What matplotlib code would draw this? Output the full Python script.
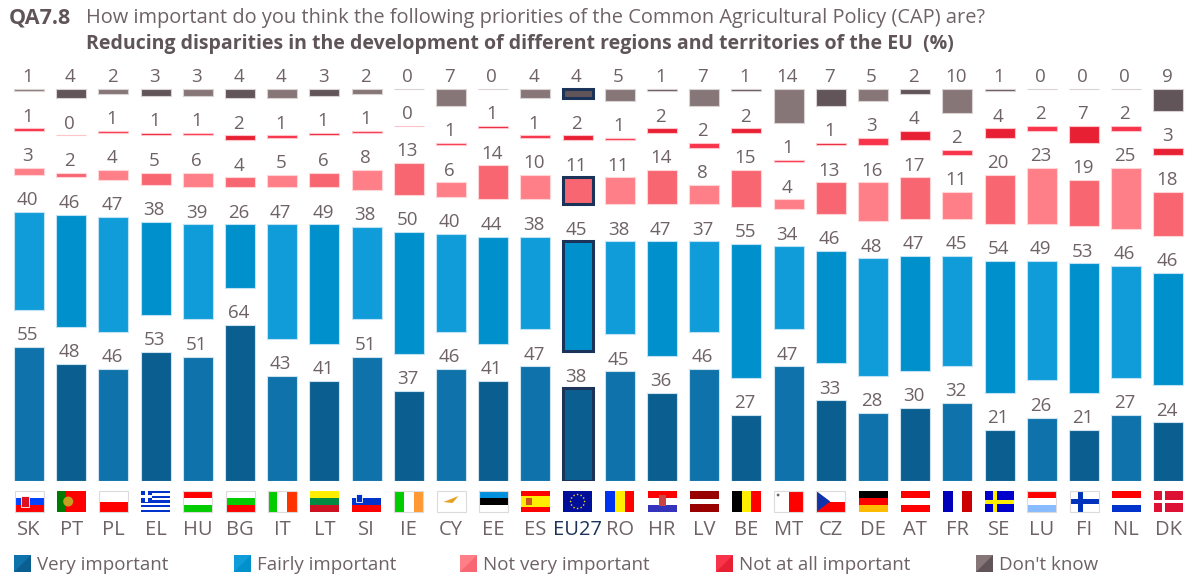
import numpy as np
import matplotlib
matplotlib.use('Agg')
import matplotlib.pyplot as plt
from matplotlib.patches import Rectangle, Polygon, Circle

plt.rcParams['font.family'] = ['Open Sans', 'DejaVu Sans']

countries = ['SK','PT','PL','EL','HU','BG','IT','LT','SI','IE','CY','EE','ES','EU27',
             'RO','HR','LV','BE','MT','CZ','DE','AT','FR','SE','LU','FI','NL','DK']
very_important =  [55,48,46,53,51,64,43,41,51,37,46,41,47,38,45,36,46,27,47,33,28,30,32,21,26,21,27,24]
fairly_important =[40,46,47,38,39,26,47,49,38,50,40,44,38,45,38,47,37,55,34,46,48,47,45,54,49,53,46,46]
not_very =        [3,2,4,5,6,4,5,6,8,13,6,14,10,11,11,14,8,15,4,13,16,17,11,20,23,19,25,18]
not_at_all =      [1,0,1,1,1,2,1,1,1,0,1,1,1,2,1,2,2,2,1,1,3,4,2,4,2,7,2,3]
dont_know =       [1,4,2,3,3,4,4,3,2,0,7,0,4,4,5,1,7,1,14,7,5,2,10,1,0,0,0,9]

series = [very_important, fairly_important, not_very, not_at_all, dont_know]
names = ['Very important', 'Fairly important', 'Not very important', 'Not at all important', "Don't know"]
light = ['#0f72aa', '#109cd8', '#ff7f88', '#f8334a', '#877678']
dark = ['#0b5f90', '#0090cc', '#f76671', '#e82034', '#625559']
edge = ['#cfe3ef', '#bfe3f5', '#ffd5d8', '#ffc4ca', '#d8d2d3']
legend_x = [14, 234, 460, 716, 976]

GREY = '#6e6266'
NAVY = '#1b3358'
GAP = 15.2   # empty space between the stacked blocks, in %
PX = 2.44    # pixels per %

W, H = 1189, 578
fig = plt.figure(figsize=(W / 100, H / 100), dpi=100)
ax = fig.add_axes([0, (H - 481) / H, 1, 481 / H])
x = np.arange(len(countries))
ax.set_xlim(-29 / 42.2, (W - 29) / 42.2)
ax.set_ylim(0, 481 / PX)

bottom = np.zeros(len(countries))
for s, vals in enumerate(series):
    vals = np.array(vals)
    cols = [light[s] if i % 2 == 0 else dark[s] for i in x]
    bars = ax.bar(x, vals, 0.71, bottom=bottom, color=cols, edgecolor=edge[s], linewidth=0.8)
    eu = countries.index('EU27')
    if s != 3:
        bars[eu].set_edgecolor(NAVY)
        bars[eu].set_linewidth(2.2)
    for i, v in enumerate(vals):
        ax.annotate(str(v), (x[i], bottom[i] + v), xytext=(-1, 4.8), textcoords='offset points',
                    ha='center', va='baseline', fontsize=13.5, color=GREY)
    bottom = bottom + vals + GAP

ax.set_xticks(x, countries, fontsize=14.5, color=GREY)
ax.get_xticklabels()[countries.index('EU27')].set_color(NAVY)
ax.tick_params(axis='x', length=0, pad=28)
ax.set_yticks([])
for sp in ax.spines.values():
    sp.set_visible(False)
ax.patch.set_alpha(0)

# overlay in pixel coordinates for flags, legend swatches and the title
ov = fig.add_axes([0, 0, 1, 1])
ov.set_xlim(0, W)
ov.set_ylim(H, 0)
ov.axis('off')

R, B, G, Y, K, WH = '#ff0000', '#0033cc', '#00cc00', '#ffee00', '#000000', '#ffffff'
flags = {
    'SK': ('h', [WH, '#0044ff', R]), 'PT': ('v', ['#007a00', R, R]), 'PL': ('h', [WH, R]),
    'EL': ('h', [B, WH, B, WH, B, WH, B, WH, B]), 'HU': ('h', [R, WH, G]), 'BG': ('h', [WH, G, R]),
    'IT': ('v', [G, WH, '#ff3300']), 'LT': ('h', [Y, '#008a44', '#cc1122']), 'SI': ('h', [WH, B, R]),
    'IE': ('v', [G, WH, '#ff9933']), 'CY': ('h', [WH]), 'EE': ('h', ['#0090dd', K, WH]),
    'ES': ('h', [R, Y, Y, R]), 'EU27': ('h', ['#000f99']), 'RO': ('v', ['#0033ee', Y, R]),
    'HR': ('h', [R, WH, '#3333bb']), 'LV': ('h', ['#990000', '#990000', WH, '#990000', '#990000']),
    'BE': ('v', [K, Y, R]), 'MT': ('v', [WH, R]), 'CZ': ('h', [WH, R]), 'DE': ('h', [K, R, '#ffbb00']),
    'AT': ('h', [R, WH, R]), 'FR': ('v', ['#0000bb', WH, '#cc0000']), 'SE': ('h', ['#0000cc']),
    'LU': ('h', [R, WH, '#88bbff']), 'FI': ('h', [WH]), 'NL': ('h', [R, WH, B]), 'DK': ('h', ['#dd1133']),
}
fy, fw, fh = 491, 29, 21
for i, c in enumerate(countries):
    x0 = 29 + 42.2 * i - fw / 2
    kind, cs = flags[c]
    n = len(cs)
    for k, col in enumerate(cs):
        if kind == 'h':
            ov.add_patch(Rectangle((x0, fy + fh * k / n), fw, fh / n, color=col, lw=0))
        else:
            ov.add_patch(Rectangle((x0 + fw * k / n, fy), fw / n, fh, color=col, lw=0))
    if c == 'EL':
        ov.add_patch(Rectangle((x0, fy), 11, 11, color=B, lw=0))
        ov.add_patch(Rectangle((x0 + 4, fy), 2.5, 11, color=WH, lw=0))
        ov.add_patch(Rectangle((x0, fy + 4.3), 11, 2.5, color=WH, lw=0))
    if c == 'CZ':
        ov.add_patch(Polygon([(x0, fy), (x0 + 14, fy + fh / 2), (x0, fy + fh)], color='#1133aa', lw=0))
    if c == 'SK':
        ov.add_patch(Rectangle((x0 + 6, fy + 5), 8, 11, color='#e01020', ec=WH, lw=0.6))
    if c == 'PT':
        ov.add_patch(Circle((x0 + 11.5, fy + fh / 2), 5, color='#c8a020', lw=0))
    if c == 'SI':
        ov.add_patch(Rectangle((x0 + 4, fy + 3), 6, 8, color=B, ec=WH, lw=0.6))
    if c == 'HR':
        ov.add_patch(Rectangle((x0 + 11, fy + 4), 7, 11, color='#cc4444', lw=0))
    if c == 'ES':
        ov.add_patch(Rectangle((x0 + 5, fy + 7), 6, 7, color='#cc5522', lw=0))
    if c == 'CY':
        ov.add_patch(Polygon([(x0 + 7, fy + 11), (x0 + 22, fy + 5), (x0 + 16, fy + 12)], color='#e6a020', lw=0))
    if c == 'MT':
        ov.add_patch(Circle((x0 + 4, fy + 4), 1.4, color='#666666', lw=0))
    if c == 'SE':
        ov.add_patch(Rectangle((x0 + 8, fy), 4, fh, color=Y, lw=0))
        ov.add_patch(Rectangle((x0, fy + 8.5), fw, 4, color=Y, lw=0))
    if c == 'FI':
        ov.add_patch(Rectangle((x0 + 8, fy), 5, fh, color='#0033bb', lw=0))
        ov.add_patch(Rectangle((x0, fy + 8), fw, 5, color='#0033bb', lw=0))
    if c == 'DK':
        ov.add_patch(Rectangle((x0 + 8, fy), 3.5, fh, color=WH, lw=0))
        ov.add_patch(Rectangle((x0, fy + 8.8), fw, 3.5, color=WH, lw=0))
    if c == 'EU27':
        for a in np.arange(0, 2 * np.pi, np.pi / 6):
            ov.add_patch(Circle((x0 + fw / 2 + 7 * np.cos(a), fy + fh / 2 + 7 * np.sin(a)), 0.8, color='#ffcc00', lw=0))
    if c in ('SK', 'PL', 'BG', 'IT', 'CY', 'EE', 'HU', 'MT', 'CZ', 'LU', 'FI', 'IE'):
        ov.add_patch(Rectangle((x0, fy), fw, fh, fill=False, ec='#dedada', lw=0.8))

# legend
for s, name in enumerate(names):
    lx = legend_x[s]
    ov.add_patch(Rectangle((lx, 555), 17, 17, color=dark[s], lw=0))
    ov.add_patch(Polygon([(lx, 555), (lx + 17, 555), (lx, 572)], color=light[s], lw=0))
    ov.text(lx + 23, 564.5, name, fontsize=13.5, color=GREY, va='center', ha='left')

ov.text(9, 18, 'QA7.8', fontsize=15.5, fontweight='bold', color='#5f5458', va='center', ha='left')
ov.text(86, 18, 'How important do you think the following priorities of the Common Agricultural Policy (CAP) are?',
        fontsize=14.4, color=GREY, va='center', ha='left')
ov.text(86, 44, 'Reducing disparities in the development of different regions and territories of the EU  (%)',
        fontsize=14, fontweight='bold', color='#5f5458', va='center', ha='left')

fig.savefig('out.png', dpi=100)
